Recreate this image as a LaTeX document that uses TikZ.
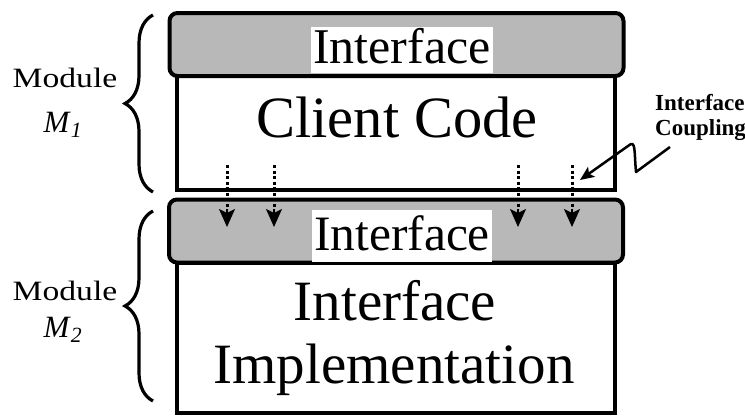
\documentclass[tikz,border=0pt]{standalone}
\usepackage{fontspec}
\setmainfont{Liberation Serif}
\usetikzlibrary{positioning, arrows.meta, decorations.pathreplacing}

\begin{document}
\begin{tikzpicture}[x=1pt, y=-1pt,
	ifbox/.style={draw, line width=4pt, rounded corners=8pt, fill=black!28, minimum width=454pt, minimum height=63pt, inner sep=0pt},
	codebox/.style={draw, line width=4pt, fill=white, minimum width=438pt, inner sep=0pt},
	ifname/.style={fill=white, inner xsep=2pt, inner ysep=0pt, anchor=base},
	modname/.style={anchor=base, font=\fontsize{28}{34}\selectfont},
	brace/.style={decorate, decoration={brace, amplitude=28pt, aspect=0.5}, line width=3.2pt},
	dots/.style={line width=3pt, dash pattern=on 3pt off 2.5pt},
	head/.style={line width=2pt, -{Stealth[length=18pt, width=16pt, inset=4pt]}}]
	\useasboundingbox (0,0) rectangle (745,418);
	% module M1
	\node[codebox, minimum height=115pt] (1) at (396,132.5) {};
	\node[ifbox] (0) at (396.5,44.5) {};
	\node[ifname, font=\fontsize{50}{60}\selectfont, text height=36pt, text depth=10pt] (4) at (402,63) {Interface};
	\node[anchor=base, font=\fontsize{58.5}{70}\selectfont] (5) at (397,137) {Client Code};
	% module M2
	\node[codebox, minimum height=150pt] (3) at (396,338) {};
	\node[ifbox] (2) at (396,231) {};
	\node[ifname, font=\fontsize{49.5}{60}\selectfont, text height=40pt, text depth=12pt] (6) at (402,250) {Interface};
	\node[anchor=base, font=\fontsize{57}{68}\selectfont] (7) at (395,320) {Interface};
	\node[anchor=base, font=\fontsize{57}{68}\selectfont] (8) at (394,383) {Implementation};
	% braces and module names
	\draw[brace] (153,192) to (153,15);
	\draw[brace] (153,401) to (153,211);
	\node[modname] (9) at (65,87) {\scalebox{1.2}[1]{Module}};
	\node[modname, anchor=base west, font=\fontsize{31}{37}\selectfont] (10) at (40,132) {\textit{M}\textsubscript{\textit{1}}};
	\node[modname] (11) at (65,300) {\scalebox{1.2}[1]{Module}};
	\node[modname, anchor=base west, font=\fontsize{31}{37}\selectfont] (12) at (40,337) {\textit{M}\textsubscript{\textit{2}}};
	% calls through the interface
	\foreach \x [count=\i] in {227,274,518,572} {
		\coordinate (s\i) at (\x,165);
		\coordinate (m\i) at (\x,209);
		\coordinate (t\i) at (\x,227);
		\draw[dots] (s\i) to (m\i);
		\draw[head] (m\i) to (t\i);
	}
	% coupling label
	\node[anchor=north west, align=left, inner sep=0pt, font=\fontsize{23}{25}\selectfont\bfseries] (13) at (655,94) {Interface\\Coupling};
	\coordinate (14) at (670,147);
	\coordinate (15) at (580,180);
	\draw[line width=2.5pt, line join=round, -{Stealth[length=14pt, width=12pt, inset=3pt]}] (14) -- (636,172) .. controls (634,150) and (636,139) .. (628,146) -- (15);
\end{tikzpicture}
\end{document}
